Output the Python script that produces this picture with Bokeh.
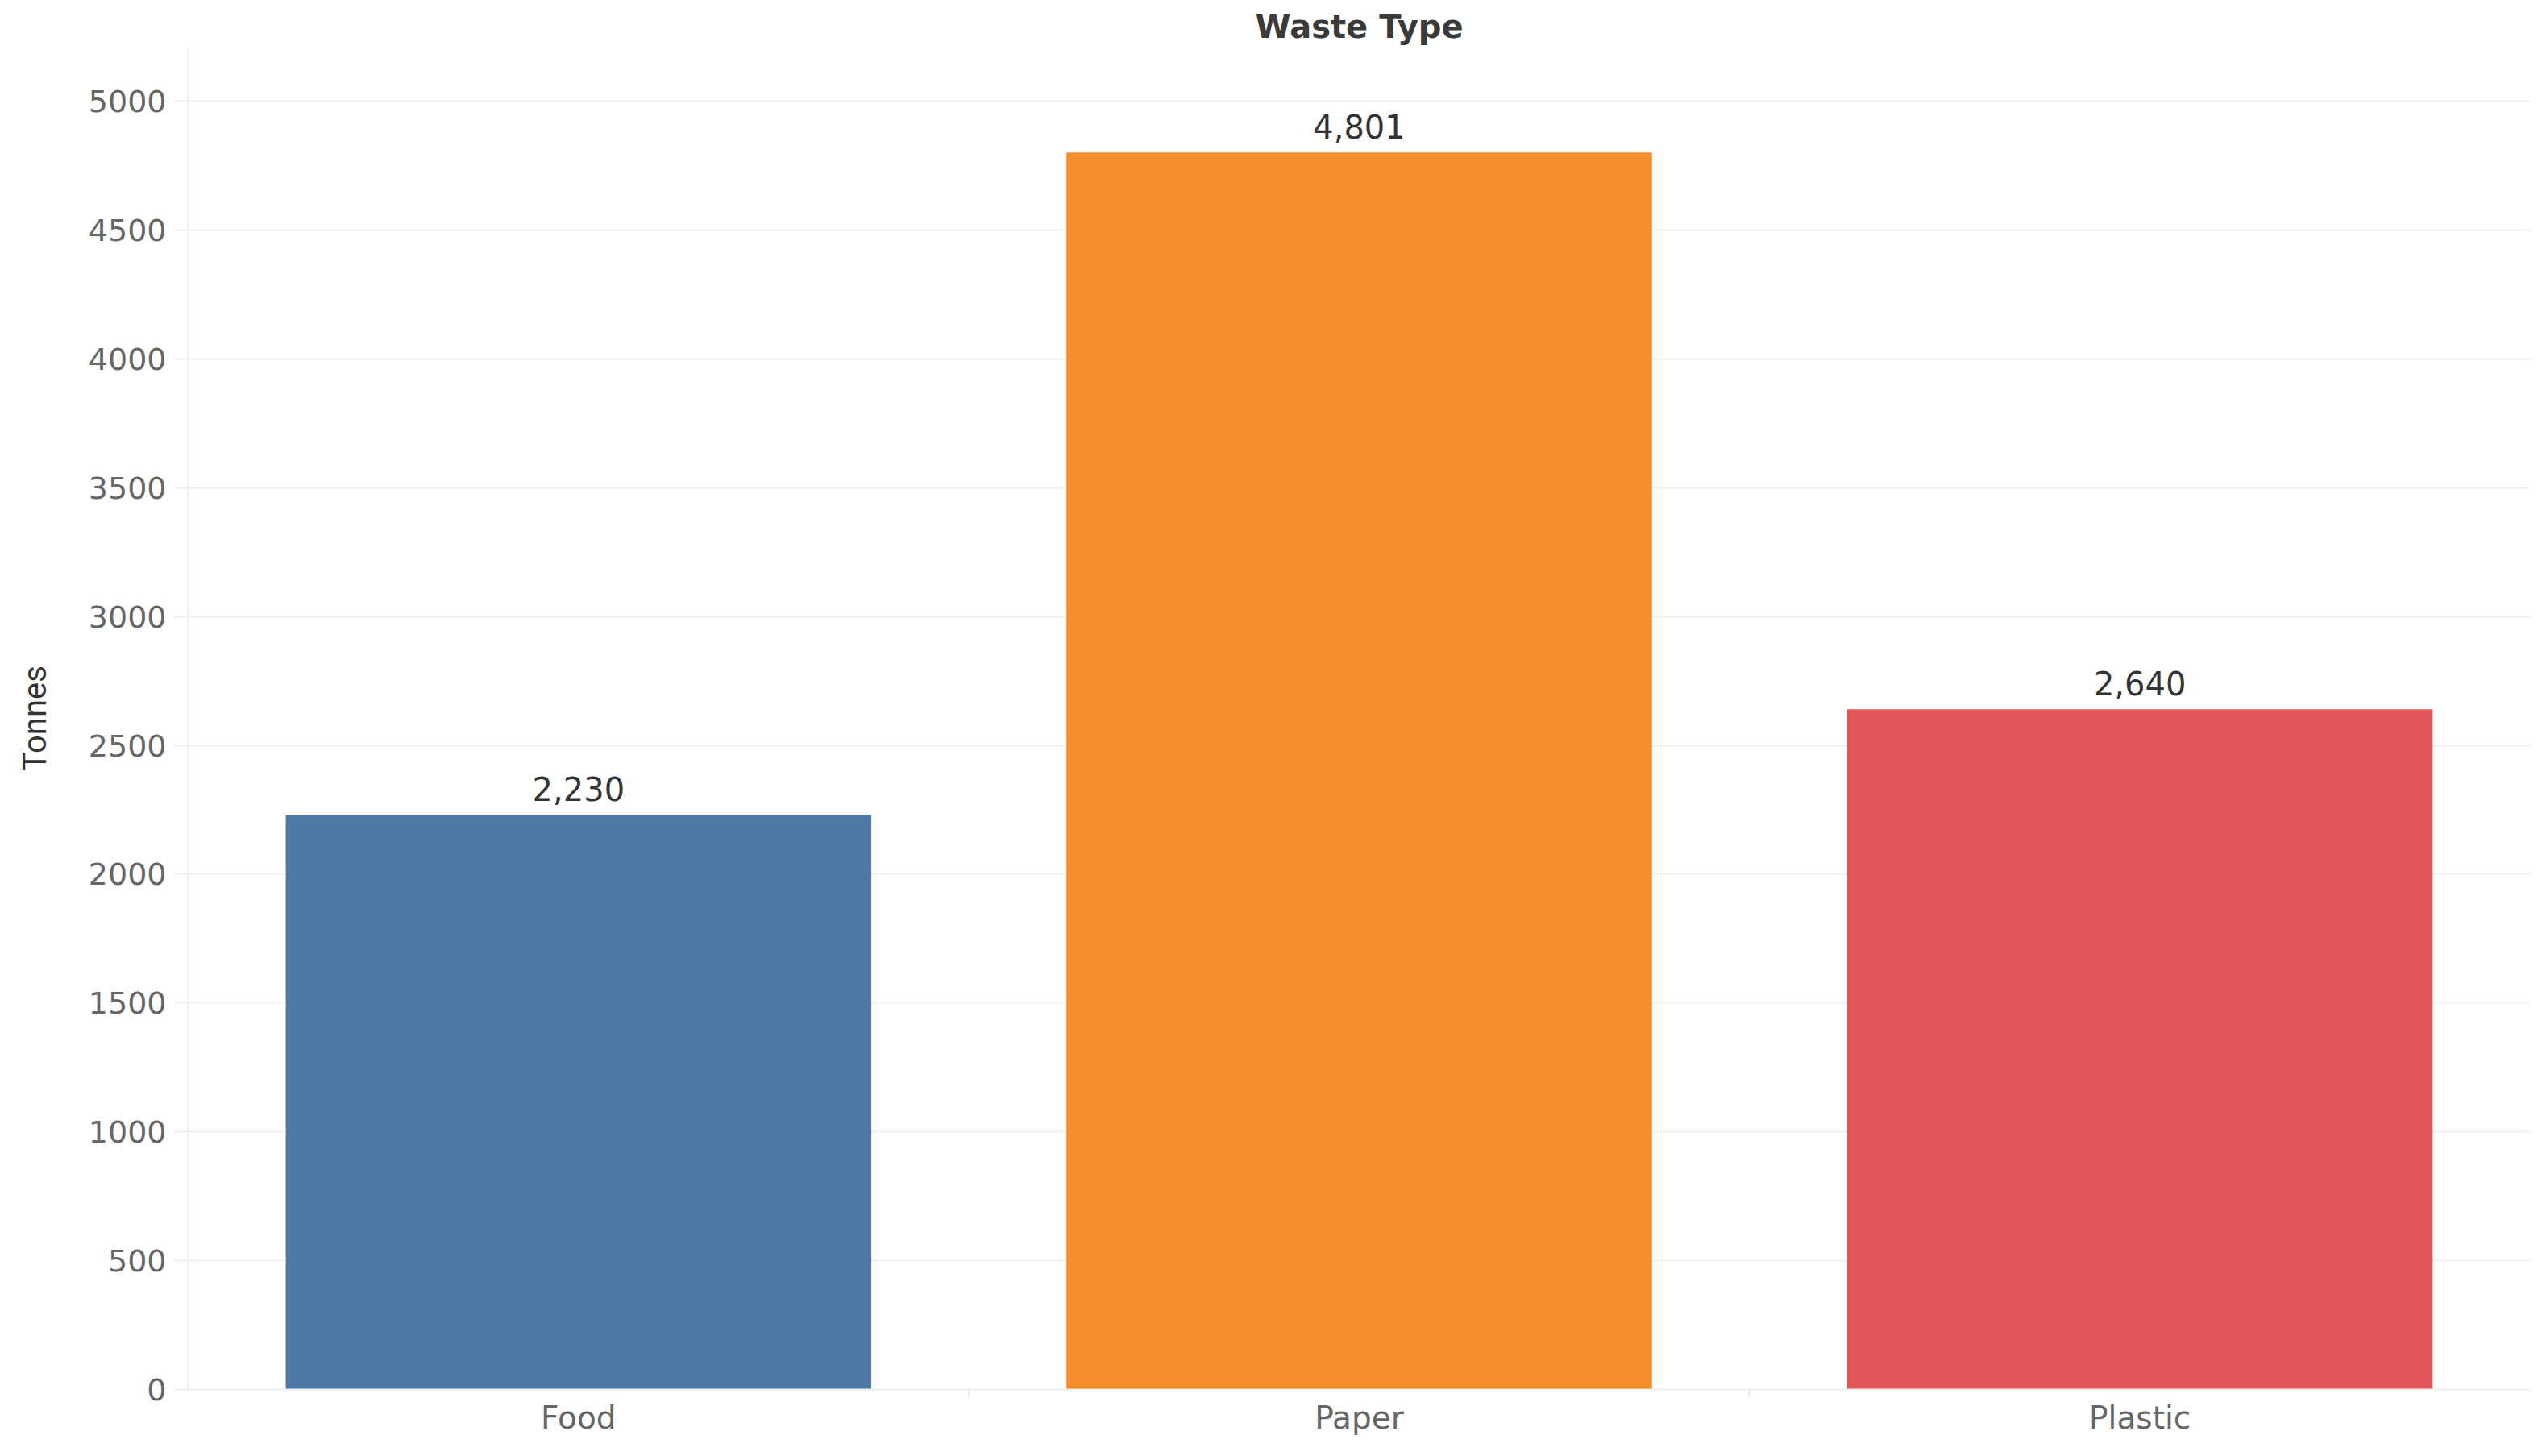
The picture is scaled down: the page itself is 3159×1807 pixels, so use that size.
from bokeh.plotting import figure
from bokeh.models import ColumnDataSource, FixedTicker, Range1d, LabelSet
from bokeh.core.properties import value
from bokeh.embed import file_html
from bokeh.resources import INLINE

categories = ["Food", "Paper", "Plastic"]
tonnes = [2230, 4801, 2640]
colors = ["#4e79a7", "#f28e2b", "#e15759"]
y_ticks = [0, 500, 1000, 1500, 2000, 2500, 3000, 3500, 4000, 4500, 5000]

xpos = [i + 0.5 for i in range(len(categories))]
src = ColumnDataSource(dict(
    x=xpos, top=tonnes, color=colors,
    label=[f"{v:,}" for v in tonnes],
))

p = figure(width=3143, height=1791, output_backend="svg", toolbar_location=None,
           x_range=Range1d(0, len(categories)), y_range=Range1d(0, 5210),
           min_border_left=233, min_border_right=4, min_border_top=58,
           min_border_bottom=67, title="Waste Type")
p.outline_line_color = None
p.background_fill_color = "white"
p.border_fill_color = "white"

p.title.align = "center"
p.title.text_font = "DejaVu Sans"
p.title.text_font_size = "40px"
p.title.text_font_style = "bold"
p.title.text_color = "#3a3a3a"
p.title.standoff = 5

p.vbar(x="x", top="top", width=0.75, color="color", source=src, line_color=None)

p.add_layout(LabelSet(x="x", y="top", text="label", source=src, text_align="center",
                      text_baseline="alphabetic", y_offset=17,
                      text_font=value("DejaVu Sans"), text_font_size=value("40px"),
                      text_color="#333333"))

# y axis
ya = p.yaxis[0]
ya.ticker = FixedTicker(ticks=y_ticks)
ya.axis_label = "Tonnes"
ya.axis_label_text_font = "Roboto"
ya.axis_label_text_font_size = "40px"
ya.axis_label_text_font_style = "normal"
ya.axis_label_text_color = "#333333"
ya.axis_label_standoff = 40
ya.major_label_text_font = "DejaVu Sans"
ya.major_label_text_font_size = "38px"
ya.major_label_text_color = "#666666"
ya.major_label_standoff = 10
ya.axis_line_color = "#eeeeee"
ya.axis_line_width = 2
ya.major_tick_line_color = "#eeeeee"
ya.major_tick_line_width = 2
ya.major_tick_out = 17
ya.major_tick_in = 0
ya.minor_tick_line_color = None

# x axis
xa = p.xaxis[0]
xa.ticker = FixedTicker(ticks=xpos, minor_ticks=[i for i in range(1, len(categories))])
xa.major_label_overrides = {x: c for x, c in zip(xpos, categories)}
xa.major_label_text_font = "DejaVu Sans"
xa.major_label_text_font_size = "39px"
xa.major_label_text_color = "#666666"
xa.major_label_standoff = 2
xa.axis_line_color = "#eeeeee"
xa.axis_line_width = 2
xa.major_tick_line_color = None
xa.minor_tick_line_color = "#eeeeee"
xa.minor_tick_line_width = 2
xa.minor_tick_out = 10
xa.minor_tick_in = 0

p.xgrid.grid_line_color = None
p.ygrid.grid_line_color = "#f0f0f0"
p.ygrid.grid_line_width = 2

open("out.html", "w").write(file_html(p, INLINE))
